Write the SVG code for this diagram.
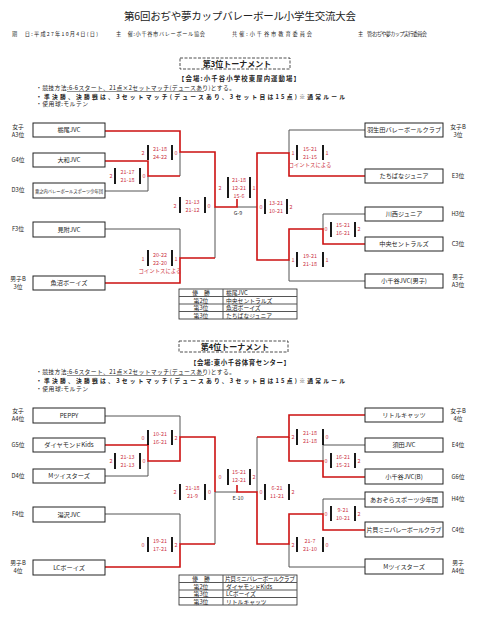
<svg xmlns="http://www.w3.org/2000/svg" width="480" height="618" viewBox="0 0 480 618">
<style>
text{font-family:"Noto Sans CJK JP","Noto Sans",sans-serif;fill:#222}
.ttl{font-size:10.5px}
.hd{font-size:5.2px}
.sub{font-size:8px;font-weight:bold;text-anchor:middle}
.ven{font-size:6.4px;font-weight:bold}
.rl{font-size:5.8px}
.rb{font-size:5.8px;font-weight:bold}
.box{fill:#fff;stroke:#222;stroke-width:1}
.bt{font-size:6.2px;text-anchor:middle}
.lb{font-size:5.8px;text-anchor:middle}
.sc{font-size:5.4px;fill:#cc3344;text-anchor:middle}
.w{stroke:#cc1111;stroke-width:1.6;fill:none}
.l{stroke:#555;stroke-width:1;fill:none}
.bar{stroke:#000;stroke-width:1.8}
.dash{fill:none;stroke:#222;stroke-width:0.8;stroke-dasharray:3 1.5}
.tb{fill:#fff;stroke:#222;stroke-width:0.8}
.tt{font-size:5.8px}
.mid{text-anchor:middle}
.gm{font-size:5.4px;text-anchor:middle;fill:#333}
</style>

<!-- Header -->
<text class="ttl" x="240" y="20" text-anchor="middle" textLength="232">第6回おぢや夢カップバレーボール小学生交流大会</text>
<text class="hd" x="12" y="36" textLength="86">期　日:平成27年10月4日(日)</text>
<text class="hd" x="116" y="36" textLength="89">主　催:小千谷市バレーボール協会</text>
<text class="hd" x="232" y="36" textLength="80">共催:小千谷市教育委員会</text>
<text class="hd" x="358" y="36" textLength="69">主　管:おぢや夢カップ実行委員会</text>

<!-- Section 1 heading -->
<rect class="dash" x="180" y="58" width="110" height="11"/>
<text class="sub" x="237" y="67">第3位トーナメント</text>
<text class="ven" x="178" y="81" textLength="122">【会場:小千谷小学校東屋内運動場】</text>
<text class="rl" x="36" y="90" textLength="199">・競技方法:6-6スタート、21点×2セットマッチ(デュースあり)とする。</text>
<line x1="67" y1="91.5" x2="204" y2="91.5" stroke="#222" stroke-width="0.5"/>
<text class="rb" x="36" y="98.5" textLength="309">・準決勝、決勝戦は、3セットマッチ(デュースあり、3セット目は15点)※通常ルール</text>
<text class="rl" x="36" y="106" textLength="52">・使用球:モルテン</text>

<!-- Connectors -->
<g id="connectors">
  <!-- top left gray -->
  <path class="l" d="M105,191 H148 V176"/>
  <path class="l" d="M180,152 V176"/>
  <path class="l" d="M105,229 H180 V258"/>
  <path class="l" d="M215,207 V258"/>
  <path class="l" d="M237,207 H257"/>
  <!-- top right gray -->
  <path class="l" d="M365,130 H289 V153"/>
  <path class="l" d="M365,214 H323 V229"/>
  <path class="l" d="M365,281 H289 V260"/>
  <!-- top reds -->
  <path class="w" d="M105,161 H148 V176 H180"/>
  <path class="w" d="M105,131 H180 V152 H215 V207 H237 V199"/>
  <path class="w" d="M105,283 H180 V258 H215"/>
  <path class="w" d="M365,176 H289 V153 H257 V207"/>
  <path class="w" d="M365,244 H323 V229 H289 V260 H257 V207"/>

  <!-- bottom left gray -->
  <path class="l" d="M105,416 H180 V437"/>
  <path class="l" d="M105,476 H148 V461"/>
  <path class="l" d="M105,514 H180 V544"/>
  <path class="l" d="M215,492 V544"/>
  <path class="l" d="M215,492 H237"/>
  <!-- bottom right gray -->
  <path class="l" d="M365,445 H323 V461"/>
  <path class="l" d="M365,499 H323 V514"/>
  <path class="l" d="M365,567 H289 V544"/>
  <path class="l" d="M257,437 V492"/>
  <!-- bottom reds -->
  <path class="w" d="M105,445 H148 V461 H180 V437 H215 V492"/>
  <path class="w" d="M105,567 H180 V544 H215"/>
  <path class="w" d="M365,415 H289 V437 H257"/>
  <path class="w" d="M365,477 H323 V461 H289 V437"/>
  <path class="w" d="M365,530 H323 V514 H289 V544 H257 V492 H237 V485"/>
</g>

<!-- Nodes top -->
<g id="n-tochio"><rect class="box" x="33" y="123" width="72" height="14"/><text class="bt" x="69" y="132.2">栃尾JVC</text></g>
<g id="n-yamato"><rect class="box" x="33" y="153" width="72" height="14"/><text class="bt" x="69" y="162.2">大和JVC</text></g>
<g id="n-awanouchi"><rect class="box" x="33" y="183" width="72" height="15"/><text class="bt" x="69" y="192.5" style="font-size:4.3px" textLength="68">粟之内バレーボールスポーツ少年団</text></g>
<g id="n-mitsuke"><rect class="box" x="33" y="222" width="72" height="15"/><text class="bt" x="69" y="231.7">見附JVC</text></g>
<g id="n-uonuma"><rect class="box" x="33" y="276" width="72" height="14"/><text class="bt" x="69" y="285.2">魚沼ボーイズ</text></g>
<g id="n-nyuuda"><rect class="box" x="365" y="123" width="78" height="14"/><text class="bt" x="404" y="132.2">羽生田バレーボールクラブ</text></g>
<g id="n-tachibana"><rect class="box" x="365" y="169" width="78" height="14"/><text class="bt" x="404" y="178.2">たちばなジュニア</text></g>
<g id="n-kawanishi"><rect class="box" x="365" y="207" width="78" height="14"/><text class="bt" x="404" y="216.2">川西ジュニア</text></g>
<g id="n-chuo"><rect class="box" x="365" y="237" width="78" height="14"/><text class="bt" x="404" y="246.2">中央セントラルズ</text></g>
<g id="n-ojiyam"><rect class="box" x="365" y="274" width="78" height="14"/><text class="bt" x="404" y="283.2">小千谷JVC(男子)</text></g>

<!-- Labels top -->
<g id="labels-top">
<text class="lb" x="18" y="129">女子</text><text class="lb" x="18" y="137">A3位</text>
<text class="lb" x="18" y="162">G4位</text>
<text class="lb" x="18" y="192">D3位</text>
<text class="lb" x="18" y="231">F3位</text>
<text class="lb" x="18" y="281">男子B</text><text class="lb" x="18" y="289">3位</text>
<text class="lb" x="458" y="129">女子B</text><text class="lb" x="458" y="137">3位</text>
<text class="lb" x="458" y="178">E3位</text>
<text class="lb" x="458" y="216">H3位</text>
<text class="lb" x="458" y="246">C3位</text>
<text class="lb" x="458" y="279">男子</text><text class="lb" x="458" y="287">A3位</text>
</g>

<!-- Scores top -->
<g id="scores-top">
  <!-- M1 -->
  <text class="sc" x="111" y="178">2</text><line class="bar" x1="115" y1="168" x2="115" y2="184"/>
  <text class="sc" x="127.5" y="174">21-17</text><text class="sc" x="127.5" y="182">21-18</text>
  <line class="bar" x1="140" y1="168" x2="140" y2="184"/><text class="sc" x="144" y="178">0</text>
  <!-- M2 -->
  <text class="sc" x="143" y="154.5">2</text><line class="bar" x1="148" y1="145" x2="148" y2="160"/>
  <text class="sc" x="160" y="151">21-18</text><text class="sc" x="160" y="158.5">24-22</text>
  <line class="bar" x1="172" y1="145" x2="172" y2="160"/><text class="sc" x="176" y="154.5">0</text>
  <!-- M3 -->
  <text class="sc" x="143" y="260.5">1</text><line class="bar" x1="148" y1="250" x2="148" y2="266"/>
  <text class="sc" x="160" y="257">20-22</text><text class="sc" x="160" y="264.5">22-20</text>
  <line class="bar" x1="172" y1="250" x2="172" y2="266"/><text class="sc" x="176" y="260.5">1</text>
  <text class="sc" x="160" y="273">コイントスによる</text>
  <!-- semi left -->
  <text class="sc" x="175" y="208">2</text><line class="bar" x1="180" y1="197" x2="180" y2="213"/>
  <text class="sc" x="192.5" y="204">21-13</text><text class="sc" x="192.5" y="212">21-12</text>
  <line class="bar" x1="205" y1="197" x2="205" y2="213"/><text class="sc" x="209" y="208">0</text>
  <!-- final -->
  <text class="sc" x="220" y="190">2</text><line class="bar" x1="228" y1="177" x2="228" y2="198"/>
  <text class="sc" x="239" y="182">21-18</text><text class="sc" x="239" y="190">12-21</text><text class="sc" x="239" y="197.5">15-6</text>
  <line class="bar" x1="250" y1="177" x2="250" y2="198"/><text class="sc" x="254" y="190">1</text>
  <text class="gm" x="238" y="215">G-9</text>
  <!-- R1 -->
  <text class="sc" x="293" y="155">1</text><line class="bar" x1="297" y1="145" x2="297" y2="160"/>
  <text class="sc" x="310" y="151">15-21</text><text class="sc" x="310" y="159">21-15</text>
  <line class="bar" x1="323" y1="145" x2="323" y2="160"/><text class="sc" x="327" y="155">1</text>
  <text class="sc" x="310" y="166.5">コイントスによる</text>
  <!-- R2 -->
  <text class="sc" x="326" y="231">0</text><line class="bar" x1="331" y1="222" x2="331" y2="237"/>
  <text class="sc" x="343" y="227">15-21</text><text class="sc" x="343" y="234.5">16-21</text>
  <line class="bar" x1="355" y1="222" x2="355" y2="237"/><text class="sc" x="359" y="231">2</text>
  <!-- R3 -->
  <text class="sc" x="293" y="262">1</text><line class="bar" x1="297" y1="252" x2="297" y2="267"/>
  <text class="sc" x="310" y="258">19-21</text><text class="sc" x="310" y="265.5">21-18</text>
  <line class="bar" x1="323" y1="252" x2="323" y2="267"/><text class="sc" x="327" y="262">1</text>
  <!-- semi right -->
  <text class="sc" x="261" y="209">0</text><line class="bar" x1="265" y1="199" x2="265" y2="214"/>
  <text class="sc" x="276" y="205">13-21</text><text class="sc" x="276" y="213">10-21</text>
  <line class="bar" x1="287" y1="199" x2="287" y2="214"/><text class="sc" x="291" y="209">2</text>
</g>

<!-- Results top -->
<g id="results-top">
  <rect class="tb" x="179" y="289" width="118" height="30"/>
  <line class="l" x1="223" y1="289" x2="223" y2="319" stroke="#222"/>
  <line class="l" x1="179" y1="296.5" x2="297" y2="296.5" stroke="#222"/>
  <line class="l" x1="179" y1="304" x2="297" y2="304" stroke="#222"/>
  <line class="l" x1="179" y1="311.5" x2="297" y2="311.5" stroke="#222"/>
  <text class="tt mid" x="201" y="295">優　勝</text><text class="tt" x="226" y="295">栃尾JVC</text>
  <text class="tt mid" x="201" y="302.5">第2位</text><text class="tt" x="226" y="302.5">中央セントラルズ</text>
  <text class="tt mid" x="201" y="310">第3位</text><text class="tt" x="226" y="310">魚沼ボーイズ</text>
  <text class="tt mid" x="201" y="317.5">第3位</text><text class="tt" x="226" y="317.5">たちばなジュニア</text>
</g>

<!-- Section 2 heading -->
<rect class="dash" x="179" y="341" width="109" height="11"/>
<text class="sub" x="235" y="350">第4位トーナメント</text>
<text class="ven" x="190" y="364.5" textLength="100">【会場:東小千谷体育センター】</text>
<text class="rl" x="36" y="374" textLength="199">・競技方法:6-6スタート、21点×2セットマッチ(デュースあり)とする。</text>
<line x1="67" y1="375.5" x2="204" y2="375.5" stroke="#222" stroke-width="0.5"/>
<text class="rb" x="36" y="382.5" textLength="309">・準決勝、決勝戦は、3セットマッチ(デュースあり、3セット目は15点)※通常ルール</text>
<text class="rl" x="36" y="390.5" textLength="52">・使用球:モルテン</text>

<!-- Nodes bottom -->
<g id="n-peppy"><rect class="box" x="33" y="408" width="72" height="15"/><text class="bt" x="69" y="417.7">PEPPY</text></g>
<g id="n-diamond"><rect class="box" x="33" y="438" width="72" height="14"/><text class="bt" x="69" y="447.2">ダイヤモンドKids</text></g>
<g id="n-mtwisters-d"><rect class="box" x="33" y="469" width="72" height="14"/><text class="bt" x="69" y="478.2">Mツイスターズ</text></g>
<g id="n-yuzawa"><rect class="box" x="33" y="507" width="72" height="15"/><text class="bt" x="69" y="516.7">湯沢JVC</text></g>
<g id="n-lc"><rect class="box" x="33" y="560" width="72" height="15"/><text class="bt" x="69" y="569.7">LCボーイズ</text></g>
<g id="n-little"><rect class="box" x="365" y="408" width="78" height="14"/><text class="bt" x="404" y="417.2">リトルキャッツ</text></g>
<g id="n-suda"><rect class="box" x="365" y="438" width="78" height="14"/><text class="bt" x="404" y="447.2">須田JVC</text></g>
<g id="n-ojiyab"><rect class="box" x="365" y="469" width="78" height="15"/><text class="bt" x="404" y="478.7">小千谷JVC(B)</text></g>
<g id="n-aozora"><rect class="box" x="365" y="492" width="78" height="15"/><text class="bt" x="404" y="501.7">あおぞらスポーツ少年団</text></g>
<g id="n-katakai"><rect class="box" x="365" y="522" width="78" height="15"/><text class="bt" x="404" y="531.7" textLength="75">片貝ミニバレーボールクラブ</text></g>
<g id="n-mtwisters-a"><rect class="box" x="365" y="559" width="78" height="15"/><text class="bt" x="404" y="568.7">Mツイスターズ</text></g>

<!-- Labels bottom -->
<g id="labels-bottom">
<text class="lb" x="18" y="413">女子</text><text class="lb" x="18" y="421">A4位</text>
<text class="lb" x="18" y="447">G5位</text>
<text class="lb" x="18" y="478">D4位</text>
<text class="lb" x="18" y="516">F4位</text>
<text class="lb" x="18" y="565">男子B</text><text class="lb" x="18" y="573">4位</text>
<text class="lb" x="458" y="413">女子B</text><text class="lb" x="458" y="421">4位</text>
<text class="lb" x="458" y="447">E4位</text>
<text class="lb" x="458" y="479">G6位</text>
<text class="lb" x="458" y="501">H4位</text>
<text class="lb" x="458" y="532">C4位</text>
<text class="lb" x="458" y="565">男子</text><text class="lb" x="458" y="573">A4位</text>
</g>

<!-- Scores bottom -->
<g id="scores-bottom">
  <!-- BL1 -->
  <text class="sc" x="111" y="463">2</text><line class="bar" x1="115" y1="453" x2="115" y2="469"/>
  <text class="sc" x="127.5" y="459">21-13</text><text class="sc" x="127.5" y="467">21-13</text>
  <line class="bar" x1="140" y1="453" x2="140" y2="469"/><text class="sc" x="144" y="463">0</text>
  <!-- BL2 -->
  <text class="sc" x="143" y="440">0</text><line class="bar" x1="148" y1="430" x2="148" y2="445"/>
  <text class="sc" x="160" y="436">10-21</text><text class="sc" x="160" y="443.5">16-21</text>
  <line class="bar" x1="172" y1="430" x2="172" y2="445"/><text class="sc" x="176" y="440">2</text>
  <!-- BL3 -->
  <text class="sc" x="143" y="546.5">0</text><line class="bar" x1="148" y1="537" x2="148" y2="552"/>
  <text class="sc" x="160" y="543">19-21</text><text class="sc" x="160" y="550.5">17-21</text>
  <line class="bar" x1="172" y1="537" x2="172" y2="552"/><text class="sc" x="176" y="546.5">2</text>
  <!-- semi left -->
  <text class="sc" x="175" y="494">2</text><line class="bar" x1="180" y1="484" x2="180" y2="500"/>
  <text class="sc" x="192.5" y="490">21-18</text><text class="sc" x="192.5" y="498">21-9</text>
  <line class="bar" x1="205" y1="484" x2="205" y2="500"/><text class="sc" x="209.5" y="494">0</text>
  <!-- final -->
  <text class="sc" x="220" y="479">0</text><line class="bar" x1="228" y1="469" x2="228" y2="485"/>
  <text class="sc" x="239" y="474">15-21</text><text class="sc" x="239" y="482">12-21</text>
  <line class="bar" x1="250" y1="469" x2="250" y2="485"/><text class="sc" x="254" y="479">2</text>
  <text class="gm" x="238" y="499.5">E-10</text>
  <!-- BR2 -->
  <text class="sc" x="293" y="439">2</text><line class="bar" x1="297" y1="429" x2="297" y2="445"/>
  <text class="sc" x="310" y="435">21-18</text><text class="sc" x="310" y="443">21-18</text>
  <line class="bar" x1="323" y1="429" x2="323" y2="445"/><text class="sc" x="327" y="439">0</text>
  <!-- BR1 -->
  <text class="sc" x="326" y="463">0</text><line class="bar" x1="331" y1="453" x2="331" y2="468"/>
  <text class="sc" x="343" y="459">16-21</text><text class="sc" x="343" y="467">15-21</text>
  <line class="bar" x1="355" y1="453" x2="355" y2="468"/><text class="sc" x="359" y="463">2</text>
  <!-- BR3 -->
  <text class="sc" x="326" y="516">0</text><line class="bar" x1="331" y1="506" x2="331" y2="521"/>
  <text class="sc" x="343" y="512">9-21</text><text class="sc" x="343" y="520">10-21</text>
  <line class="bar" x1="355" y1="506" x2="355" y2="521"/><text class="sc" x="359" y="516">2</text>
  <!-- BR4 -->
  <text class="sc" x="293" y="546.5">2</text><line class="bar" x1="297" y1="537" x2="297" y2="552"/>
  <text class="sc" x="310" y="543">21-7</text><text class="sc" x="310" y="550.5">21-10</text>
  <line class="bar" x1="323" y1="537" x2="323" y2="552"/><text class="sc" x="327" y="546.5">0</text>
  <!-- semi right -->
  <text class="sc" x="261" y="494">0</text><line class="bar" x1="265" y1="484" x2="265" y2="500"/>
  <text class="sc" x="277" y="490">6-21</text><text class="sc" x="277" y="498">11-21</text>
  <line class="bar" x1="289" y1="484" x2="289" y2="500"/><text class="sc" x="293" y="494">2</text>
</g>

<!-- Results bottom -->
<g id="results-bottom">
  <rect class="tb" x="179" y="575" width="118" height="30"/>
  <line class="l" x1="223" y1="575" x2="223" y2="605" stroke="#222"/>
  <line class="l" x1="179" y1="582.5" x2="297" y2="582.5" stroke="#222"/>
  <line class="l" x1="179" y1="590" x2="297" y2="590" stroke="#222"/>
  <line class="l" x1="179" y1="597.5" x2="297" y2="597.5" stroke="#222"/>
  <text class="tt mid" x="201" y="581">優　勝</text><text class="tt" x="225" y="581" textLength="70">片貝ミニバレーボールクラブ</text>
  <text class="tt mid" x="201" y="588.5">第2位</text><text class="tt" x="226" y="588.5">ダイヤモンドKids</text>
  <text class="tt mid" x="201" y="596">第3位</text><text class="tt" x="226" y="596">LCボーイズ</text>
  <text class="tt mid" x="201" y="603.5">第3位</text><text class="tt" x="226" y="603.5">リトルキャッツ</text>
</g>
</svg>
